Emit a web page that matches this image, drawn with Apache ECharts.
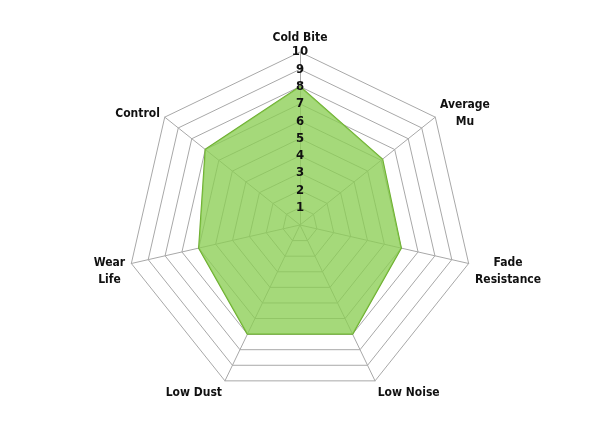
<!DOCTYPE html>
<html>
<head>
<meta charset="utf-8">
<script src="https://cdn.jsdelivr.net/npm/echarts@6/dist/echarts.min.js"></script>
<style>
  html, body { margin: 0; padding: 0; background: #fff; }
  #chart { width: 600px; height: 430px; }
</style>
</head>
<body>
<div id="chart"></div>
<script>
// pad ratings per category, listed clockwise from the top
var categories = ['Cold Bite', 'Average\nMu', 'Fade\nResistance', 'Low Noise', 'Low Dust', 'Wear\nLife', 'Control'];
var ratings = [8, 6.1, 6, 7, 7, 6, 7];
var maxRating = 10;

var labelFont = '"DejaVu Sans Condensed", "Liberation Sans Narrow", sans-serif';
var nameSize = 12;
// names on the lower half hang below their corner instead of sitting centred on it
var hangingNames = ['Fade\nResistance', 'Low Noise', 'Low Dust', 'Wear\nLife'];

// echarts lays radar axes out counter-clockwise, so keep the first one
// at the top and reverse the rest
var order = [0, 6, 5, 4, 3, 2, 1];
var values = order.map(function (i) { return ratings[i]; });

// each two-line name gets a box as wide as its longest line so the
// lines sit centred under each other
var ctx = document.createElement('canvas').getContext('2d');
ctx.font = 'bold ' + nameSize + 'px ' + labelFont;
var rich = {};
categories.forEach(function (c, i) {
    var w = Math.max.apply(null, c.split('\n').map(function (l) {
        return ctx.measureText(l).width;
    }));
    rich['n' + i] = {
        width: Math.ceil(w),
        align: 'center',
        color: '#111',
        fontFamily: labelFont,
        fontWeight: 'bold',
        fontSize: nameSize,
        lineHeight: 17
    };
});

function makeRadar(withScale) {
    return {
        center: [300, 225],
        radius: 173,
        startAngle: 90,
        shape: 'polygon',
        splitNumber: 10,
        z: withScale ? 3 : 1,
        indicator: order.map(function (i) {
            var ind = { name: categories[i], max: maxRating, min: 0 };
            if (withScale && i === 0) {
                ind.axisLabel = { show: true };
            }
            return ind;
        }),
        axisName: {
            show: !withScale,
            color: '#111',
            fontFamily: labelFont,
            fontWeight: 'bold',
            fontSize: nameSize,
            lineHeight: 14,
            rich: rich,
            formatter: function (name) {
                var k = categories.indexOf(name);
                var txt = name.split('\n').map(function (l) {
                    return '{n' + k + '|' + l + '}';
                }).join('\n');
                return hangingNames.indexOf(name) >= 0 ? '\n' + txt : txt;
            }
        },
        nameGap: 6,
        axisLine: { show: !withScale, lineStyle: { color: '#a8a8a8', width: 1 } },
        splitLine: { show: !withScale, lineStyle: { color: '#a8a8a8', width: 1 } },
        splitArea: { show: false },
        axisTick: { show: false },
        axisLabel: {
            show: false,
            margin: 0,
            align: 'center',
            verticalAlign: 'middle',
            color: '#111',
            fontFamily: labelFont,
            fontWeight: 'bold',
            fontSize: 13,
            formatter: function (v) { return v === 0 ? '' : v; }
        }
    };
}

var myChart = echarts.init(document.getElementById('chart'));
var option = {
    animation: false,
    radar: [makeRadar(false), makeRadar(true)],
    series: [
        {
            type: 'radar',
            radarIndex: 0,
            z: 2,
            symbol: 'none',
            lineStyle: { color: '#6aaa2c', width: 1.5 },
            areaStyle: { color: '#8cce55', opacity: 0.78 },
            data: [
                { value: values, name: 'Rating' }
            ]
        }
    ]
};
myChart.setOption(option);
</script>
</body>
</html>
